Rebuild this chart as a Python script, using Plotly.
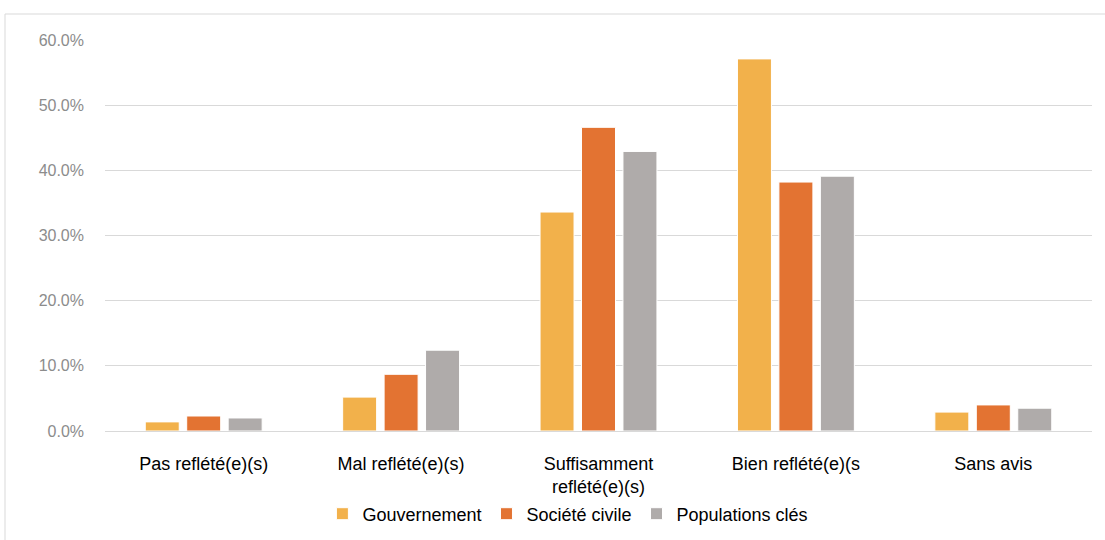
import plotly.graph_objects as go

categories = ["Pas reflété(e)(s)", "Mal reflété(e)(s)", "Suffisamment<br>reflété(e)(s)", "Bien reflété(e)(s", "Sans avis"]
gouvernement = [1.4, 5.2, 33.6, 57.1, 2.9]
societe_civile = [2.3, 8.7, 46.6, 38.2, 4.0]
populations_cles = [2.0, 12.4, 42.9, 39.1, 3.5]
series_names = ["Gouvernement", "Société civile", "Populations clés"]
colors = ["#F2B14B", "#E37332", "#AFABAA"]

fig = go.Figure()
for name, vals, col in zip(series_names, [gouvernement, societe_civile, populations_cles], colors):
    fig.add_trace(go.Bar(x=categories, y=vals, name=name, marker=dict(color=col, line=dict(color="white", width=1))))

L, R, T, B = 105, 13, 40, 109
W, H = 1105, 540
pw, ph = W - L - R, H - T - B

def px_x(x):
    return (x - L) / pw

def px_y(y):
    return (H - B - y) / ph

fig.update_layout(
    width=W, height=H,
    margin=dict(l=L, r=R, t=T, b=B, autoexpand=False),
    paper_bgcolor="white", plot_bgcolor="white",
    barmode="group", bargap=0.37, bargroupgap=0.18,
    font=dict(family="Liberation Sans, Arial, sans-serif", size=18, color="#000000"),
    showlegend=True,
    legend=dict(orientation="h", x=0.469, xanchor="center", y=px_y(514), yanchor="middle",
                bgcolor="rgba(0,0,0,0)",
                font=dict(size=18, color="#000000"), itemwidth=30, traceorder="normal"),
    shapes=[
        dict(type="line", xref="paper", yref="paper", x0=px_x(5), x1=px_x(1105), y0=px_y(14), y1=px_y(14),
             line=dict(color="#D9D9D9", width=1)),
        dict(type="line", xref="paper", yref="paper", x0=px_x(5), x1=px_x(5), y0=px_y(14), y1=px_y(540),
             line=dict(color="#D9D9D9", width=1)),
    ],
)
fig.update_yaxes(range=[0, 60], dtick=10, tickformat=".1f", ticksuffix="%",
                 showgrid=True, gridcolor="#D9D9D9", gridwidth=1, zeroline=False,
                 tickfont=dict(size=16, color="#8C8C8C"), ticklabelstandoff=20, showline=False)
fig.update_xaxes(showline=True, linecolor="#D9D9D9", linewidth=1, tickfont=dict(size=18, color="#000000"),
                 ticklabelstandoff=16, showgrid=False)

fig.write_html("out.html")
